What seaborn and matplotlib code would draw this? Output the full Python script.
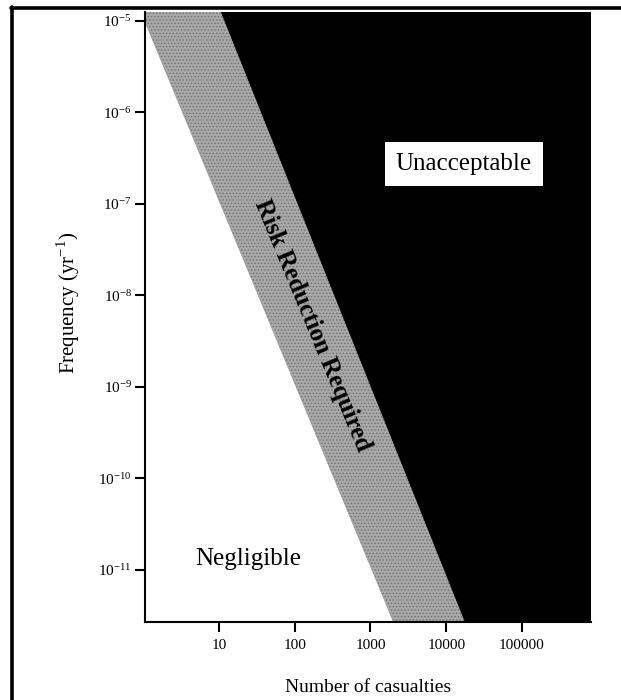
import matplotlib
matplotlib.use('Agg')
import matplotlib.pyplot as plt
from matplotlib.lines import Line2D
from matplotlib.ticker import NullLocator
import seaborn as sns

# region edges (straight lines on log-log axes)
boundary_n = [1, 1e6]
negligible_limit = [1.1e-5, 1.1e-17]   # white / grey edge
unacceptable_limit = [1.7e-3, 6.5e-16]  # grey / black edge
ceiling = [1e-3, 1e-3]

x_ticks = [10, 100, 1000, 10000, 100000]
x_labels = ['10', '100', '1000', '10000', '100000']
y_ticks = [1e-11, 1e-10, 1e-9, 1e-8, 1e-7, 1e-6, 1e-5]
y_labels = [r'$\mathregular{10^{-11}}$', r'$\mathregular{10^{-10}}$', r'$\mathregular{10^{-9}}$',
            r'$\mathregular{10^{-8}}$', r'$\mathregular{10^{-7}}$', r'$\mathregular{10^{-6}}$',
            r'$\mathregular{10^{-5}}$']

grey = '#a8a8a8'

sns.set_style('ticks')
plt.rcParams['font.family'] = ['Liberation Serif', 'DejaVu Serif']
plt.rcParams['mathtext.fontset'] = 'custom'
plt.rcParams['mathtext.rm'] = 'Liberation Serif'
plt.rcParams['text.color'] = 'black'
plt.rcParams['axes.labelcolor'] = 'black'
plt.rcParams['hatch.linewidth'] = 0.6

fig = plt.figure(figsize=(6.21, 7.0), dpi=100)
ax = fig.add_axes([0.2335, 0.1114, 0.7182, 0.8715])
ax.set_xscale('log')
ax.set_yscale('log')

# dotted halftone look for the middle band
ax.fill_between(boundary_n, negligible_limit, unacceptable_limit, facecolor=grey,
                edgecolor='#6e6e6e', hatch='.....', lw=0)
ax.fill_between(boundary_n, unacceptable_limit, ceiling, color='black', lw=0)
sns.lineplot(x=boundary_n, y=negligible_limit, ax=ax, color='#9a9a9a', lw=0.6)
sns.lineplot(x=boundary_n, y=unacceptable_limit, ax=ax, color='black', lw=0.6)

ax.set_xlim(1.055, 8.15e5)
ax.set_ylim(2.70e-12, 1.253e-5)

ax.set_xticks(x_ticks)
ax.set_xticklabels(x_labels)
ax.set_yticks(y_ticks)
ax.set_yticklabels(y_labels)
ax.xaxis.set_minor_locator(NullLocator())
ax.yaxis.set_minor_locator(NullLocator())
ax.tick_params(axis='both', which='major', direction='out', length=7.5, width=1.5,
               colors='black', labelsize=11)
ax.tick_params(axis='x', pad=5)
ax.tick_params(axis='y', pad=2)

for side in ['top', 'right']:
    ax.spines[side].set_visible(False)
for side in ['left', 'bottom']:
    ax.spines[side].set_linewidth(1.5)
    ax.spines[side].set_color('black')

ax.set_xlabel('Number of casualties', fontsize=14)
ax.xaxis.set_label_coords(0.5, -0.093)
ax.set_ylabel(r'Frequency (yr$^{\mathregular{-1}}$)', fontsize=15)
ax.yaxis.set_label_coords(-0.142, 0.523)

ax.text(0.7152, 0.741, 'Unacceptable', transform=ax.transAxes, ha='center', va='baseline',
        fontsize=18, color='black',
        bbox=dict(boxstyle='square,pad=0.45', fc='white', ec='none'))
ax.text(0.231, 0.0934, 'Negligible', transform=ax.transAxes, ha='center', va='baseline',
        fontsize=18, color='black')
ax.text(0.3756, 0.4869, 'Risk Reduction Required', transform=ax.transAxes, rotation=-67.5,
        rotation_mode='anchor', ha='center', va='center', fontsize=18, fontweight='bold',
        color='black')

# page frame (top and left edges)
fig.add_artist(Line2D([0.0177, 1.0], [0.9879, 0.9879], color='black', lw=2.6,
                      transform=fig.transFigure))
fig.add_artist(Line2D([0.0201, 0.0201], [0.0, 0.99], color='black', lw=2.6,
                      transform=fig.transFigure))

fig.savefig('out.png', dpi=100)
